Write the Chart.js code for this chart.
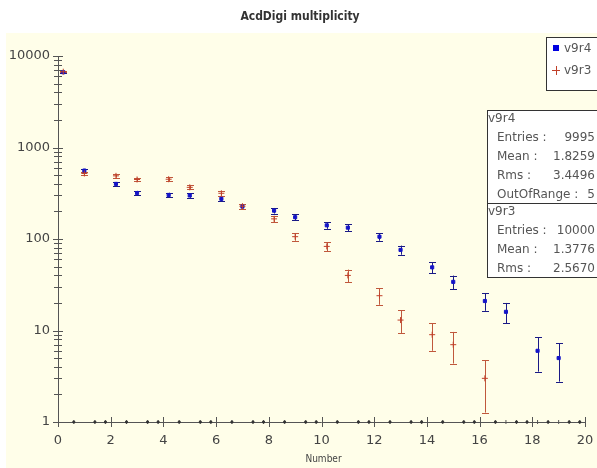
<!DOCTYPE html>
<html lang="en">
<head>
    <meta charset="UTF-8">
    <title>AcdDigi multiplicity</title>
    <script src="https://cdn.jsdelivr.net/npm/chart.js"></script>
    <style>
        body { margin: 0; padding: 0; background: #ffffff; }
        #wrap { position: relative; width: 597px; height: 468px; }
    </style>
</head>
<body>
    <div id="wrap"><canvas id="multChart" width="597" height="468"></canvas></div>

    <script>
        // multiplicity values (integers) and counts per value
        const multiplicity = [0, 1, 2, 3, 4, 5, 6, 7, 8, 9, 10, 11, 12, 13, 14, 15, 16, 17, 18, 19];
        const v9r4Counts = [6650, 560, 400, 318, 303, 299, 275, 226, 204, 173, 141, 133, 106, 76, 49, 34, 21, 16, 6, 5];
        const v9r3Counts = [6730, 520, 490, 447, 450, 367, 316, 228, 166, 106, 83, 40, 24, 13, 9, 7, 3, 0, 0, 0];

        // histogram binning: 50 bins over 0..20
        const xMin = 0, xMax = 20, nBins = 50;
        const binWidth = (xMax - xMin) / nBins;

        const xTicks = [0, 2, 4, 6, 8, 10, 12, 14, 16, 18, 20];
        const yTicks = [1, 10, 100, 1000, 10000];

        const stats = [
            { name: 'v9r4', rows: [['Entries :', '9995'], ['Mean :', '1.8259'], ['Rms :', '3.4496'], ['OutOfRange :', '5']] },
            { name: 'v9r3', rows: [['Entries :', '10000'], ['Mean :', '1.3776'], ['Rms :', '2.5670']] }
        ];

        const BLUE = '#1414c8';
        const BLUE_BAR = '#1a1a86';
        const RED = '#c0402a';
        const RED_BAR = '#c0583c';
        const CREAM = '#fffee9';

        function binIndex(n) {
            return Math.floor((n - xMin) / binWidth + 1e-9);
        }
        function binCenter(i) {
            return xMin + (i + 0.5) * binWidth;
        }

        // filled bins become points, empty bins are shown at the bottom of the log axis
        function buildSeries(counts) {
            const filled = [];
            const used = new Set();
            multiplicity.forEach((n, k) => {
                if (counts[k] > 0) {
                    const i = binIndex(n);
                    used.add(i);
                    filled.push({ x: binCenter(i), y: counts[k] });
                }
            });
            const empty = [];
            for (let i = 0; i < nBins; i++) {
                if (!used.has(i)) empty.push({ x: binCenter(i), y: yTicks[0] });
            }
            return { filled, empty };
        }

        const s4 = buildSeries(v9r4Counts);
        const s3 = buildSeries(v9r3Counts);

        // background, title, axes, error bars, legend and stat boxes
        const decorPlugin = {
            id: 'decor',
            beforeDraw(chart) {
                const ctx = chart.ctx;
                ctx.save();
                ctx.fillStyle = '#ffffff';
                ctx.fillRect(0, 0, chart.width, chart.height);
                ctx.fillStyle = CREAM;
                ctx.fillRect(6, 33, chart.width - 6, chart.height - 33);
                ctx.fillStyle = '#333';
                ctx.font = 'bold 12px "DejaVu Sans Condensed", "DejaVu Sans", sans-serif';
                ctx.textAlign = 'center';
                ctx.textBaseline = 'middle';
                ctx.fillText('AcdDigi multiplicity', 300, 17);
                ctx.restore();
            },
            beforeDatasetsDraw(chart) {
                const ctx = chart.ctx;
                const xs = chart.scales.x, ys = chart.scales.y;
                const area = chart.chartArea;
                ctx.save();
                // axes
                ctx.strokeStyle = '#555';
                ctx.lineWidth = 1;
                ctx.beginPath();
                ctx.moveTo(area.left, Math.round(area.bottom) + 0.5);
                ctx.lineTo(area.right, Math.round(area.bottom) + 0.5);
                ctx.moveTo(Math.round(area.left) + 0.5, area.bottom);
                ctx.lineTo(Math.round(area.left) + 0.5, area.top);
                xTicks.forEach(v => {
                    const px = Math.round(xs.getPixelForValue(v)) + 0.5;
                    ctx.moveTo(px, area.bottom - 5);
                    ctx.lineTo(px, area.bottom + 5);
                });
                yTicks.forEach((d, k) => {
                    const py = Math.round(ys.getPixelForValue(d)) + 0.5;
                    ctx.moveTo(area.left - 5, py);
                    ctx.lineTo(area.left + 5, py);
                    if (k < yTicks.length - 1) {
                        for (let m = 2; m <= 9; m++) {
                            const pm = Math.round(ys.getPixelForValue(d * m)) + 0.5;
                            ctx.moveTo(area.left - 4, pm);
                            ctx.lineTo(area.left + 4, pm);
                        }
                    }
                });
                ctx.stroke();

                // poisson error bars
                const bars = [[s4.filled, BLUE_BAR], [s3.filled, RED_BAR]];
                bars.forEach(([pts, col]) => {
                    ctx.strokeStyle = col;
                    ctx.beginPath();
                    pts.forEach(p => {
                        const err = Math.sqrt(p.y);
                        const lo = Math.max(p.y - err, yTicks[0]);
                        const hi = p.y + err;
                        const px = Math.round(xs.getPixelForValue(p.x)) + 0.5;
                        const y1 = ys.getPixelForValue(hi);
                        const y2 = ys.getPixelForValue(lo);
                        ctx.moveTo(px, y1);
                        ctx.lineTo(px, y2);
                        ctx.moveTo(px - 3.5, Math.round(y1) + 0.5);
                        ctx.lineTo(px + 3.5, Math.round(y1) + 0.5);
                        ctx.moveTo(px - 3.5, Math.round(y2) + 0.5);
                        ctx.lineTo(px + 3.5, Math.round(y2) + 0.5);
                    });
                    ctx.stroke();
                });
                ctx.restore();
            },
            afterDraw(chart) {
                const ctx = chart.ctx;
                ctx.save();
                ctx.lineWidth = 1;
                ctx.strokeStyle = '#333';
                ctx.textBaseline = 'middle';
                ctx.font = '12px "DejaVu Sans", sans-serif';

                // legend
                ctx.fillStyle = '#ffffff';
                ctx.fillRect(546.5, 37.5, 60, 53);
                ctx.strokeRect(546.5, 37.5, 60, 53);
                ctx.fillStyle = '#0000e0';
                ctx.fillRect(553, 45, 6, 6);
                ctx.strokeStyle = RED;
                ctx.beginPath();
                ctx.moveTo(552, 70.5); ctx.lineTo(560, 70.5);
                ctx.moveTo(556.5, 66); ctx.lineTo(556.5, 75);
                ctx.stroke();
                ctx.fillStyle = '#555';
                ctx.textAlign = 'left';
                ctx.fillText('v9r4', 564, 49);
                ctx.fillText('v9r3', 564, 71);

                // stat boxes
                ctx.strokeStyle = '#333';
                const boxX = 487.5, boxW = 120;
                let top = 110.5;
                stats.forEach(st => {
                    const h = 19 * st.rows.length + 17;
                    ctx.fillStyle = '#ffffff';
                    ctx.fillRect(boxX, top, boxW, h);
                    ctx.strokeRect(boxX, top, boxW, h);
                    ctx.fillStyle = '#555';
                    ctx.textAlign = 'left';
                    ctx.fillText(st.name, 488, top + 8);
                    st.rows.forEach((r, k) => {
                        const y = top + 27 + 19 * k;
                        ctx.textAlign = 'left';
                        ctx.fillText(r[0], 497, y);
                        ctx.textAlign = 'right';
                        ctx.fillText(r[1], 595, y);
                    });
                    top += h;
                });

                // x title
                ctx.fillStyle = '#444';
                ctx.textAlign = 'center';
                ctx.font = '10px "DejaVu Sans Condensed", "DejaVu Sans", sans-serif';
                ctx.fillText('Number', (chart.chartArea.left + chart.chartArea.right) / 2 + 2, 459);
                ctx.restore();
            }
        };

        new Chart(document.getElementById('multChart'), {
            type: 'scatter',
            data: {
                datasets: [
                    {
                        label: 'v9r3',
                        data: s3.filled,
                        pointStyle: 'cross',
                        pointRadius: 3,
                        borderColor: RED,
                        backgroundColor: RED,
                        borderWidth: 1,
                        clip: false
                    },
                    {
                        label: 'v9r4',
                        data: s4.filled,
                        pointStyle: 'rect',
                        pointRadius: 2.2,
                        borderColor: BLUE,
                        backgroundColor: BLUE,
                        borderWidth: 1,
                        clip: false
                    },
                    {
                        label: 'v9r4 empty',
                        data: s4.empty,
                        pointStyle: 'rect',
                        pointRadius: 1.3,
                        borderColor: '#333',
                        backgroundColor: '#333',
                        borderWidth: 1,
                        clip: false
                    },
                    {
                        label: 'v9r3 empty',
                        data: s3.empty,
                        pointStyle: 'line',
                        rotation: 90,
                        pointRadius: 2,
                        borderColor: '#555',
                        borderWidth: 1,
                        clip: false
                    }
                ]
            },
            options: {
                responsive: false,
                animation: false,
                layout: { padding: { top: 56, right: 12, left: 0, bottom: 0 } },
                plugins: {
                    legend: { display: false },
                    title: { display: false },
                    tooltip: { enabled: false }
                },
                scales: {
                    x: {
                        type: 'linear',
                        min: xMin,
                        max: xMax,
                        afterBuildTicks: s => { s.ticks = xTicks.map(v => ({ value: v })); },
                        afterFit: s => {
                            s.height = 46;
                            s.paddingLeft = 0;
                            s.paddingRight = 0;
                        },
                        grid: { display: false, drawTicks: false },
                        border: { display: false },
                        ticks: {
                            color: '#444',
                            padding: 11,
                            font: { family: '"DejaVu Sans", sans-serif', size: 13 }
                        }
                    },
                    y: {
                        type: 'logarithmic',
                        min: yTicks[0],
                        max: yTicks[yTicks.length - 1],
                        afterBuildTicks: s => { s.ticks = yTicks.map(v => ({ value: v })); },
                        afterFit: s => {
                            s.width = 58;
                            s.paddingTop = 0;
                            s.paddingBottom = 0;
                        },
                        grid: { display: false, drawTicks: false },
                        border: { display: false },
                        ticks: {
                            color: '#444',
                            padding: 8,
                            callback: v => String(v),
                            font: { family: '"DejaVu Sans", sans-serif', size: 13 }
                        }
                    }
                }
            },
            plugins: [decorPlugin]
        });
    </script>
</body>
</html>
